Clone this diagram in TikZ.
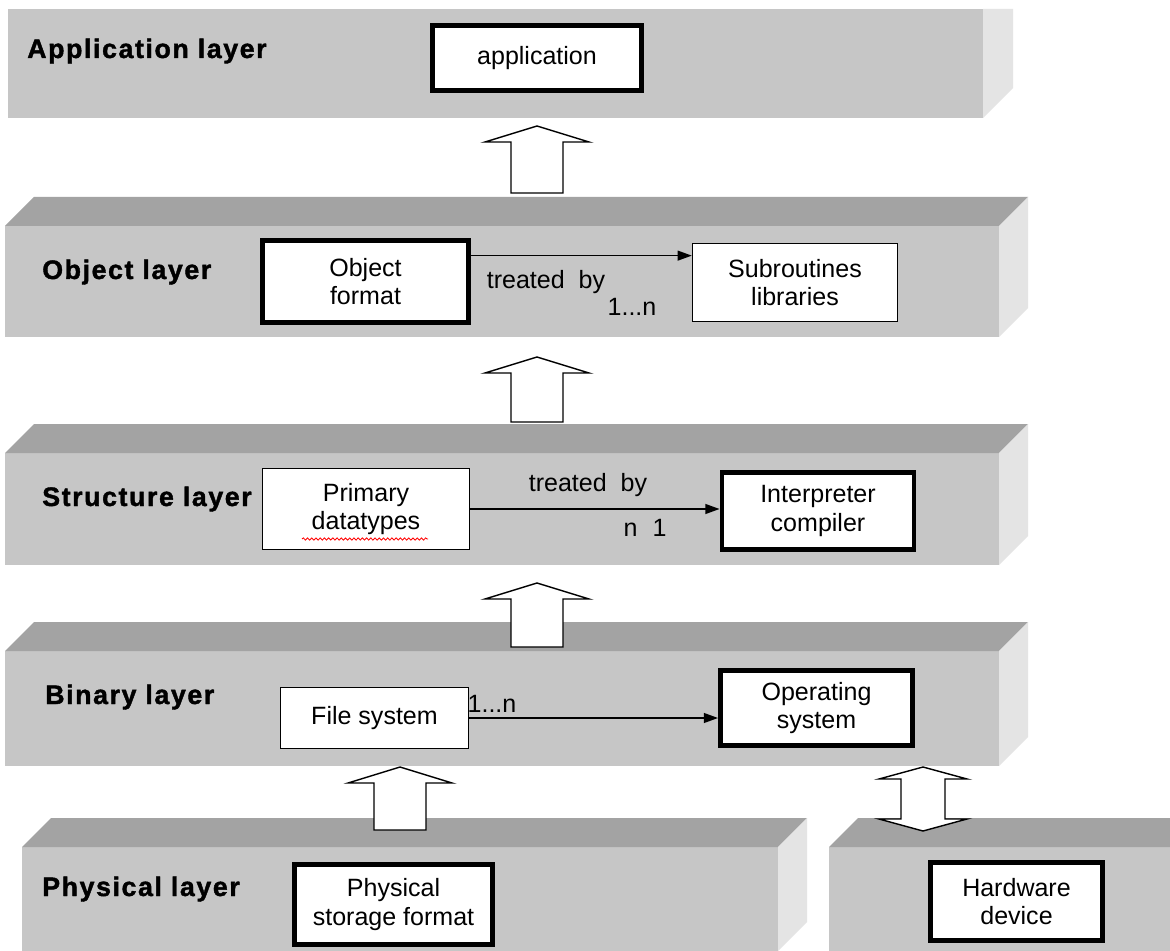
\documentclass[tikz,border=0pt]{standalone}
\usepackage{fontspec}
\setmainfont{Liberation Sans}
\newfontfamily\layerfont{Liberation Sans Bold}[LetterSpace=6,FakeBold=1.5]
\usepackage{tikz}
\usetikzlibrary{arrows.meta}
\usetikzlibrary{calc}
\usetikzlibrary{decorations.pathmorphing}
\definecolor{barfront}{RGB}{198,198,198}
\definecolor{bartop}{RGB}{163,163,163}
\definecolor{barside}{RGB}{228,228,228}

\begin{document}
\begin{tikzpicture}
	[x=0.025cm,y=-0.025cm,
	every node/.style={font=\fontsize{17.8}{20}\selectfont},
	box/.style={draw,fill=white,inner sep=0pt,align=center,line width=1pt},
	thickbox/.style={box,line width=3.5pt},
	layer/.style={anchor=base west,inner sep=0pt,font=\layerfont\fontsize{19}{22}\selectfont},
	blockarrow/.style={draw,fill=white,line width=1pt},
	conn/.style={line width=1pt,-{Triangle[length=10pt,width=7pt]}}]
	\useasboundingbox (0,0) rectangle (1170,951);
	\fill[white] (0,0) rectangle (1170,951);
	
	% layer bars
	\fill[barfront] (8,9) rectangle (983,118);
	\fill[barside] (983,9) -- (1013,9) -- (1013,88) -- (983,118) -- cycle;
	\foreach \xa/\ya/\xb/\yb in
	{5/226/999/337, 5/453/999/565, 5/651/999/766, 22/847/778/951, 829/847/1170/951}
	{
		\fill[barfront] (\xa,\ya) rectangle (\xb,\yb);
		\fill[bartop] (\xa,\ya) -- ++(29,-29) -- (\xb+29,\ya-29) -- (\xb,\ya) -- cycle;
		\fill[barside] (\xb,\ya) -- ++(29,-29) -- (\xb+29,\yb-29) -- (\xb,\yb) -- cycle;
	}
	
	% block arrows
	\foreach \cx/\ytop/\ybot in {537/126/193, 537/357/422, 537/583/647, 400/767/830}
	\draw[blockarrow] (\cx-26,\ybot) -- (\cx-26,\ytop+16) -- (\cx-52,\ytop+16) -- (\cx,\ytop)
		-- (\cx+52,\ytop+16) -- (\cx+26,\ytop+16) -- (\cx+26,\ybot) -- cycle;
	\draw[blockarrow] (923,767) -- (967,779) -- (945,779) -- (945,819) -- (967,819) -- (923,831)
		-- (879,819) -- (901,819) -- (901,779) -- (879,779) -- cycle;
	
	\node[layer] (lapp) at (27,58) {Application layer};
	\node[layer] (lobj) at (42,279) {Object layer};
	\node[layer] (lstr) at (42,506) {Structure layer};
	\node[layer] (lbin) at (45,704) {Binary layer};
	\node[layer] (lphy) at (42,896) {Physical layer};
	
	\node[thickbox,minimum width=5.225cm,minimum height=1.625cm] (app) at (537,58) {application};
	\node[thickbox,minimum width=5.15cm,minimum height=2.05cm] (objfmt) at (365.5,281.5) {Object\\format};
	\node[box,minimum width=5.125cm,minimum height=1.95cm] (subr) at (795,282.5) {Subroutines\\libraries};
	\node[box,minimum width=5.175cm,minimum height=2.025cm] (primary) at (366,509) {Primary\\datatypes};
	\node[thickbox,minimum width=4.8cm,minimum height=1.925cm] (interp) at (818,511) {Interpreter\\compiler};
	\node[box,minimum width=4.7cm,minimum height=1.525cm] (filesys) at (374.5,718) {File system};
	\node[thickbox,minimum width=4.8cm,minimum height=1.875cm] (opsys) at (816.5,708) {Operating\\system};
	\node[thickbox,minimum width=4.95cm,minimum height=2cm] (physstore) at (393.5,904.5) {Physical\\storage format};
	\node[thickbox,minimum width=4.3cm,minimum height=1.95cm] (hardware) at (1016.5,901.5) {Hardware\\device};
	
	\draw[red,line width=0.6pt,decorate,decoration={snake,amplitude=0.8pt,segment length=3pt}]
		($(primary.center)+(-64,30)$) -- ($(primary.center)+(62,30)$);
	
	\draw[conn] ([yshift=-0.44cm]objfmt.north east) coordinate (t1) -- (t1 -| subr.west);
	\draw[conn] (primary.east) -- (primary.east -| interp.west);
	\draw[conn] (filesys.east) -- (filesys.east -| opsys.west);
	
	\node (tb1) at (546,282) {treated\ \ by};
	\node (n1) at (632,307) {1...n};
	\node (tb2) at (588,485) {treated\ \ by};
	\node (n2) at (645,528) {n\hspace{0.6em}1};
	\node (n3) at (492,704) {1...n};
\end{tikzpicture}
\end{document}
